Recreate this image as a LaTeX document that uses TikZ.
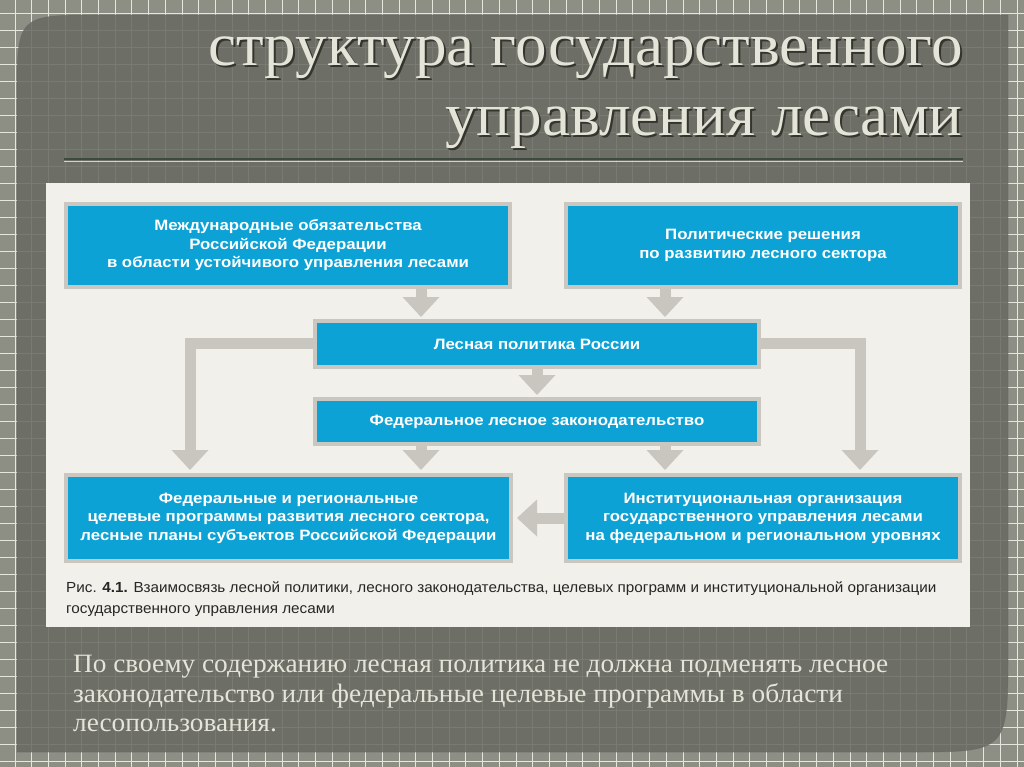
\documentclass[tikz,border=0pt]{standalone}
\usepackage{fontspec}
\setmainfont{Liberation Serif}
\newfontfamily\titlef[FakeStretch=1.035]{Liberation Serif}
\newfontfamily\bodyf[FakeStretch=1.03]{Liberation Serif}
\newfontfamily\sansf[FakeStretch=1.12]{Liberation Sans}
\newfontfamily\capf[FakeStretch=1.045]{Liberation Sans}
\usetikzlibrary{arrows.meta}
\definecolor{bgcol}{HTML}{8D8F85}
\definecolor{gridcol}{HTML}{E6E6DE}
\definecolor{panelcol}{HTML}{686960}
\definecolor{papercol}{HTML}{F2F0EA}
\definecolor{boxblue}{HTML}{0DA2D5}
\definecolor{boxedge}{HTML}{CAC7C1}
\definecolor{arrowcol}{HTML}{C9C6C0}
\definecolor{titlecol}{HTML}{E4E4D8}
\definecolor{shadowcol}{HTML}{34352F}
\definecolor{rulecol}{HTML}{3C4A3F}
\tikzset{
  gridline/.style={draw=gridcol, line width=0.9pt},
  bluebox/.style={draw=boxedge, line width=4pt, fill=boxblue, text=white,
    align=center, inner sep=0pt,
    font=\sansf\bfseries\fontsize{15}{18.5}\selectfont},
  bigarrow/.style={draw=arrowcol, line width=11pt, miter limit=10,
    -{Triangle[width=37pt,length=20pt,line width=0pt]}},
  titletext/.style={font=\titlef\fontsize{61}{61}\selectfont, inner sep=0pt, anchor=base east},
  bodytext/.style={font=\bodyf\fontsize{26.5}{30}\selectfont, text=titlecol, inner sep=0pt, anchor=base west},
  captext/.style={font=\capf\fontsize{14.6}{21}\selectfont, text=black!85, inner sep=0pt, anchor=base west}
}
\begin{document}
\begin{tikzpicture}[x=1pt,y=-1pt]
\useasboundingbox (0,0) rectangle (1024,767);
% outer background with grid
\fill[bgcol] (0,0) rectangle (1024,767);
\foreach \i in {0,...,61} \draw[gridline] ({15+16.7*\i},0) -- ++(0,767);
\foreach \j in {0,...,45} \draw[gridline] (0,{13+17*\j}) -- ++(1024,0);
% dark panel
\fill[panelcol, opacity=0.86] (17,752) -- (17,100) .. controls (17,15) .. (100,15)
  -- (1008,15) -- (1008,650) .. controls (1008,752) .. (910,752) -- cycle;
\draw[black!60, line width=0.8pt, opacity=0.5] (17,752) -- (17,100) .. controls (17,15) .. (100,15)
  -- (1008,15) -- (1008,650) .. controls (1008,752) .. (910,752) -- cycle;
% title
\node[titletext, text=shadowcol] at (965,68) {структура государственного};
\node[titletext, text=titlecol] (t1) at (963,66) {структура государственного};
\node[titletext, text=shadowcol] at (965,138) {управления лесами};
\node[titletext, text=titlecol] (t2) at (963,136) {управления лесами};
\draw[rulecol, line width=2pt] (64,159) -- (963,159);
\draw[white!70!panelcol, line width=0.8pt] (64,161) -- (963,161);
% paper
\fill[papercol] (46,183) rectangle (970,627);
% boxes
\node[bluebox, minimum width=444pt, minimum height=83pt] (b1) at (288,245.5)
  {Международные обязательства\\Российской Федерации\\в области устойчивого управления лесами};
\node[bluebox, minimum width=394pt, minimum height=83pt] (b2) at (763,245.5)
  {Политические решения\\по развитию лесного сектора};
\node[bluebox, minimum width=444pt, minimum height=46pt] (b3) at (537,344)
  {Лесная политика России};
\node[bluebox, minimum width=444pt, minimum height=45pt] (b4) at (537,421.5)
  {Федеральное лесное законодательство};
\node[bluebox, minimum width=445pt, minimum height=86pt] (b5) at (288.5,518)
  {Федеральные и региональные\\целевые программы развития лесного сектора,\\лесные планы субъектов Российской Федерации};
\node[bluebox, minimum width=394pt, minimum height=86pt] (b6) at (763,518)
  {Институциональная организация\\государственного управления лесами\\на федеральном и региональном уровнях};
% arrows
\draw[bigarrow, shorten >=2pt] (b1.south -| 421,0) -- (b3.north -| 421,0);
\draw[bigarrow, shorten >=2pt] (b2.south -| 665,0) -- (b3.north -| 665,0);
\draw[bigarrow, shorten >=2pt] (b3.south -| 537,0) -- (b4.north -| 537,0);
\draw[bigarrow, shorten >=3pt] (b4.south -| 421,0) -- (b5.north -| 421,0);
\draw[bigarrow, shorten >=3pt] (b4.south -| 665,0) -- (b6.north -| 665,0);
\draw[bigarrow, shorten >=3pt] (b3.west |- 0,343) -- (190,343) -- (b5.north -| 190,0);
\draw[bigarrow, shorten >=3pt] (b3.east |- 0,343) -- (860,343) -- (b5.north -| 860,0);
\draw[bigarrow, shorten >=4pt] (b6.west |- 0,518) -- (b5.east |- 0,518);
% caption
\node[captext] (c1) at (66,592) {Рис. \textbf{4.1.} Взаимосвязь лесной политики, лесного законодательства, целевых программ и институциональной организации};
\node[captext] (c2) at (66,613) {государственного управления лесами};
% body text
\node[bodytext] (p1) at (73,672) {По своему содержанию лесная политика не должна подменять лесное};
\node[bodytext] (p2) at (73,702) {законодательство или федеральные целевые программы в области};
\node[bodytext] (p3) at (73,731) {лесопользования.};
\end{tikzpicture}
\end{document}
